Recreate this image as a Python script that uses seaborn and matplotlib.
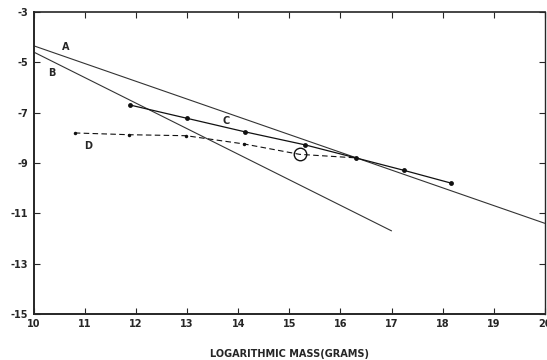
import numpy as np
import pandas as pd
import matplotlib
matplotlib.use("Agg")
import matplotlib.pyplot as plt
import seaborn as sns

# Line data
a_x = [10.0, 20.0]
a_y = [-4.35, -11.4]
b_x = [10.0, 17.0]
b_y = [-4.6, -11.7]
c_x = [11.88, 13.0, 14.14, 15.3, 16.3, 17.25, 18.16]
c_y = [-6.7, -7.23, -7.77, -8.28, -8.8, -9.3, -9.8]
d_x = [10.8, 11.86, 12.98, 14.12, 15.2, 16.3]
d_y = [-7.81, -7.88, -7.92, -8.25, -8.66, -8.8]
circle_x = [15.2]
circle_y = [-8.66]
labels = ["A", "B", "C", "D"]
label_x = [10.63, 10.35, 13.76, 11.06]
label_y = [-4.39, -5.42, -7.33, -8.31]
x_ticks = list(range(10, 21))
y_ticks = [-3, -5, -7, -9, -11, -13, -15]

sns.set_style("ticks")
plt.rcParams['font.family'] = ['DejaVu Sans']

fig = plt.figure(figsize=(5.47, 3.6), dpi=100)
ax = fig.add_axes([0.062, 0.128, 0.934, 0.839])

ink = "#333333"
sns.lineplot(x=a_x, y=a_y, ax=ax, color=ink, linewidth=0.8)
sns.lineplot(x=b_x, y=b_y, ax=ax, color=ink, linewidth=0.8)
sns.lineplot(x=c_x, y=c_y, ax=ax, color="#111111", linewidth=0.9,
             marker="o", markersize=3.5, markeredgewidth=0)
# dashed line D; no dot where the open circle sits
sns.lineplot(x=d_x, y=d_y, ax=ax, color="#111111", linewidth=0.8,
             linestyle=(0, (5, 3)), marker="o", markersize=2.5, markeredgewidth=0,
             markevery=[0, 1, 2, 3, 5])
ax.plot(circle_x, circle_y, marker="o", markersize=9, markerfacecolor="none",
        markeredgecolor="#111111", markeredgewidth=1.0, linestyle="none")

for lab, lx, ly in zip(labels, label_x, label_y):
    ax.text(lx, ly, lab, fontsize=7, fontweight="bold", ha="center", va="center")

ax.set_xlim(10, 20)
ax.set_ylim(-15, -3)
ax.set_xticks(x_ticks)
ax.set_yticks(y_ticks)
ax.set_xticklabels([str(t) for t in x_ticks], fontsize=7, fontweight="bold")
ax.set_yticklabels([str(t) for t in y_ticks], fontsize=7, fontweight="bold")
ax.tick_params(direction="in", length=4, width=0.8, top=True, right=True, pad=4)
for side in ["left", "bottom", "top", "right"]:
    ax.spines[side].set_visible(True)
    ax.spines[side].set_linewidth(1.0)
ax.spines["top"].set_linewidth(1.2)
ax.spines["left"].set_linewidth(1.4)
ax.spines["bottom"].set_linewidth(1.4)
ax.set_xlabel("LOGARITHMIC MASS(GRAMS)", fontsize=7, fontweight="bold", labelpad=14)
ax.set_ylabel("")

fig.savefig("out.png", dpi=100)
